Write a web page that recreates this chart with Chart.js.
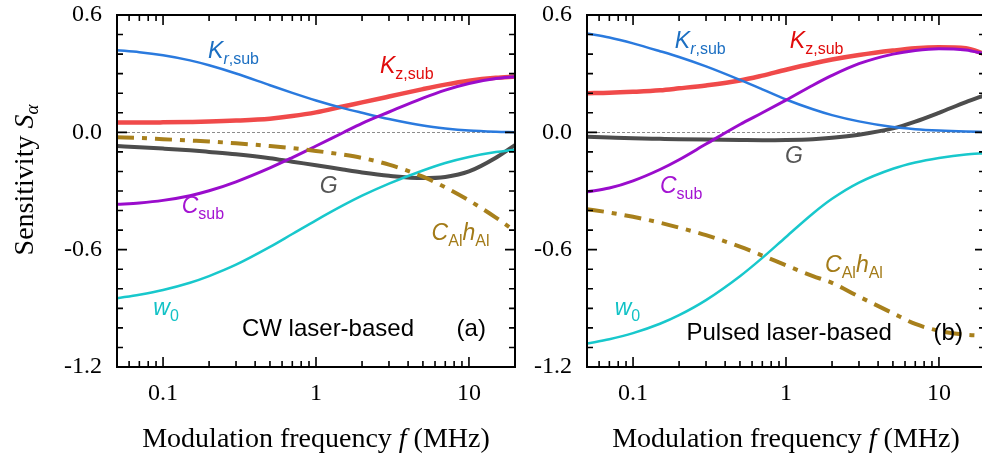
<!DOCTYPE html>
<html><head><meta charset="utf-8">
<script src="https://cdn.jsdelivr.net/npm/chart.js@4.4.1/dist/chart.umd.min.js"></script>
<style>
html,body{margin:0;padding:0;background:#fff;width:982px;height:455px;overflow:hidden;}
canvas{position:absolute;top:0;}
#ca{left:0;} #cb{left:470px;}
</style></head><body>
<canvas id="ca" width="520" height="455"></canvas>
<canvas id="cb" width="520" height="455"></canvas>
<script>
// ---------- data ----------
const freq = [0.05, 0.07, 0.1, 0.15, 0.2, 0.3, 0.5, 0.7, 1, 1.5, 2, 3, 5, 7, 10, 15, 20];

// panel (a) CW laser-based
const krA    = [0.42, 0.41, 0.394, 0.368, 0.343, 0.301, 0.241, 0.202, 0.163, 0.124, 0.1, 0.068, 0.035, 0.02, 0.009, 0.003, 0.001];
const kzA    = [0.05, 0.05, 0.051, 0.053, 0.055, 0.06, 0.07, 0.083, 0.102, 0.132, 0.153, 0.183, 0.221, 0.244, 0.264, 0.279, 0.285];
const csubA  = [-0.368, -0.361, -0.348, -0.324, -0.299, -0.253, -0.182, -0.129, -0.07, -0.002, 0.046, 0.104, 0.175, 0.216, 0.25, 0.275, 0.284];
const gA     = [-0.07, -0.076, -0.083, -0.092, -0.1, -0.112, -0.132, -0.15, -0.168, -0.19, -0.205, -0.222, -0.234, -0.228, -0.2, -0.13, -0.065];
const w0A    = [-0.848, -0.83, -0.806, -0.769, -0.735, -0.677, -0.586, -0.52, -0.45, -0.374, -0.324, -0.262, -0.195, -0.157, -0.126, -0.101, -0.089];
const cahA   = [-0.025, -0.029, -0.035, -0.042, -0.047, -0.056, -0.07, -0.081, -0.095, -0.114, -0.131, -0.165, -0.227, -0.281, -0.348, -0.436, -0.505];

// panel (b) pulsed laser-based
const krB    = [0.506, 0.485, 0.455, 0.415, 0.385, 0.337, 0.268, 0.22, 0.168, 0.118, 0.088, 0.056, 0.027, 0.016, 0.009, 0.004, 0.002];
const kzB    = [0.2, 0.202, 0.207, 0.215, 0.225, 0.24, 0.265, 0.29, 0.32, 0.352, 0.372, 0.395, 0.418, 0.43, 0.435, 0.43, 0.4];
const csubB  = [-0.304, -0.285, -0.248, -0.19, -0.14, -0.06, 0.04, 0.1, 0.165, 0.241, 0.291, 0.351, 0.4, 0.419, 0.428, 0.421, 0.401];
const gB     = [-0.022, -0.026, -0.03, -0.033, -0.035, -0.037, -0.039, -0.04, -0.039, -0.035, -0.028, -0.012, 0.02, 0.055, 0.1, 0.155, 0.19];
const w0B    = [-1.08, -1.058, -1.027, -0.979, -0.935, -0.858, -0.736, -0.642, -0.535, -0.415, -0.34, -0.257, -0.186, -0.154, -0.131, -0.113, -0.107];
const cahB   = [-0.393, -0.41, -0.432, -0.462, -0.487, -0.526, -0.585, -0.63, -0.68, -0.735, -0.77, -0.84, -0.925, -0.98, -1.015, -1.035, -1.04];

// ticks
const xTickValues = [0.05,0.06,0.07,0.08,0.09,0.1,0.2,0.3,0.4,0.5,0.6,0.7,0.8,0.9,1,2,3,4,5,6,7,8,9,10,20];
const xLabelValues = [0.1, 1, 10];
const xLabelTexts  = ['0.1', '1', '10'];
const yTickValues = [-1.2,-1.1,-1.0,-0.9,-0.8,-0.7,-0.6,-0.5,-0.4,-0.3,-0.2,-0.1,0,0.1,0.2,0.3,0.4,0.5,0.6];
const yLabelValues = [0.6, 0, -0.6, -1.2];
const yLabelTexts  = ['0.6', '0.0', '-0.6', '-1.2'];

// ---------- style ----------
const SERIF = '"Liberation Serif", "Times New Roman", serif';
const SANS  = '"Liberation Sans", Arial, sans-serif';
const C = {
  kr:  {line:'#2a7ade', text:'#1c6fc2', w:2.5},
  kz:  {line:'#f04a4a', text:'#e00c0c', w:4.5},
  cs:  {line:'#9a0ccc', text:'#a414d2', w:3},
  g:   {line:'#4d4d4d', text:'#555555', w:4},
  w0:  {line:'#18c8cc', text:'#12c2c6', w:2.5},
  cah: {line:'#a8801c', text:'#a37b18', w:4}
};
const BIG = 23, SUB = 16, SD = 6;
const lbl = {
  kr:  [{t:'K',i:1,s:BIG},{t:'r',i:1,s:SUB,d:SD},{t:',sub',s:SUB,d:SD}],
  kz:  [{t:'K',i:1,s:BIG},{t:'z,sub',s:SUB,d:SD}],
  cs:  [{t:'C',i:1,s:BIG},{t:'sub',s:SUB,d:SD}],
  g:   [{t:'G',i:1,s:BIG}],
  w0:  [{t:'w',i:1,s:BIG},{t:'0',s:SUB,d:SD}],
  cah: [{t:'C',i:1,s:BIG},{t:'Al',s:SUB,d:SD},{t:'h',i:1,s:BIG},{t:'Al',s:SUB,d:SD}]
};

function drawRich(ctx, x, y, parts, color, family) {
  ctx.fillStyle = color; ctx.textAlign = 'left'; ctx.textBaseline = 'alphabetic';
  for (const p of parts) {
    ctx.font = (p.i ? 'italic ' : '') + p.s + 'px ' + family;
    ctx.fillText(p.t, x, y + (p.d || 0));
    x += ctx.measureText(p.t).width;
  }
}
function richWidth(ctx, parts, family) {
  let w = 0;
  for (const p of parts) { ctx.font = (p.i ? 'italic ' : '') + p.s + 'px ' + family; w += ctx.measureText(p.t).width; }
  return w;
}

const decor = {
  id: 'decor',
  beforeDatasetsDraw(chart) {
    const {ctx, chartArea: a, scales: {y}} = chart;
    ctx.save();
    ctx.strokeStyle = '#8c8c8c'; ctx.lineWidth = 1; ctx.setLineDash([3, 2]);
    const py = Math.round(y.getPixelForValue(0)) + 0.5;
    ctx.beginPath(); ctx.moveTo(a.left, py); ctx.lineTo(a.right, py); ctx.stroke();
    ctx.restore();
  },
  afterDatasetsDraw(chart, args, opts) {
    const {ctx, chartArea: a, scales: {x, y}} = chart;
    ctx.save();
    ctx.strokeStyle = '#000'; ctx.lineWidth = 1.6; ctx.setLineDash([]);
    ctx.beginPath();
    for (const v of yTickValues) {
      const py = y.getPixelForValue(v);
      const len = yLabelValues.some(m => Math.abs(m - v) < 1e-9) ? 10 : 6;
      ctx.moveTo(a.left, py); ctx.lineTo(a.left + len, py);
      ctx.moveTo(a.right, py); ctx.lineTo(a.right - len, py);
    }
    for (const v of xTickValues) {
      const px = x.getPixelForValue(v);
      const len = xLabelValues.some(m => Math.abs(m - v) < 1e-9) ? 10 : 6;
      ctx.moveTo(px, a.bottom); ctx.lineTo(px, a.bottom - len);
      ctx.moveTo(px, a.top); ctx.lineTo(px, a.top + len);
    }
    ctx.stroke();
    ctx.lineWidth = 2;
    ctx.strokeRect(a.left, a.top, a.right - a.left, a.bottom - a.top);

    // curve labels
    for (const L of opts.labels) {
      drawRich(ctx, x.getPixelForValue(L.f), y.getPixelForValue(L.v), lbl[L.k], C[L.k].text, SANS);
    }
    // panel text
    ctx.font = '24px ' + SANS; ctx.fillStyle = '#000'; ctx.textAlign = 'left';
    ctx.fillText(opts.note.t, x.getPixelForValue(opts.note.f), y.getPixelForValue(opts.note.v));
    ctx.fillText(opts.tag.t, x.getPixelForValue(opts.tag.f), y.getPixelForValue(opts.tag.v));

    // x title
    const xt = [{t:'Modulation frequency ',s:28},{t:'f',i:1,s:28},{t:' (MHz)',s:28}];
    const wx = richWidth(ctx, xt, SERIF);
    drawRich(ctx, (a.left + a.right) / 2 - wx / 2, 447, xt, '#000', SERIF);

    // y title
    if (opts.ytitle) {
      const yt = [{t:'Sensitivity ',s:28},{t:'S',i:1,s:28},{t:'\u03b1',i:1,s:19,d:5}];
      const wy = richWidth(ctx, yt, SERIF);
      ctx.translate(33, 180); ctx.rotate(-Math.PI / 2);
      drawRich(ctx, -wy / 2, 0, yt, '#000', SERIF);
    }
    ctx.restore();
  }
};

function series(vals, key, order) {
  return {
    data: freq.map((f, i) => ({x: f, y: vals[i]})),
    borderColor: C[key].line, borderWidth: C[key].w,
    borderDash: key === 'cah' ? [17, 8, 5, 8] : [],
    pointRadius: 0, fill: false, cubicInterpolationMode: 'monotone',
    clip: 0, order: order
  };
}

function makeChart(id, d, opts) {
  return new Chart(document.getElementById(id), {
    type: 'line',
    data: { datasets: [
      series(d.cah, 'cah', 0), series(d.cs, 'cs', 1), series(d.kr, 'kr', 2),
      series(d.w0, 'w0', 3), series(d.g, 'g', 4), series(d.kz, 'kz', 5)
    ]},
    options: {
      responsive: false, animation: false, devicePixelRatio: 1,
      layout: { padding: {top: 15, right: 5, left: 0, bottom: 0} },
      plugins: { legend: {display: false}, tooltip: {enabled: false}, decor: opts },
      scales: {
        x: {
          type: 'logarithmic', min: 0.05, max: 20,
          grid: {display: false, drawTicks: false}, border: {display: false},
          afterBuildTicks: s => { s.ticks = xTickValues.map(v => ({value: v})); },
          afterFit: s => { s.height = 88; s.paddingLeft = 0; s.paddingRight = 0; },
          ticks: {
            autoSkip: false, maxRotation: 0, padding: 12, color: '#000',
            font: {family: SERIF, size: 24},
            callback: v => { const i = xLabelValues.findIndex(m => Math.abs(m - v) < 1e-9); return i >= 0 ? xLabelTexts[i] : ''; }
          }
        },
        y: {
          min: -1.2, max: 0.6,
          grid: {display: false, drawTicks: false}, border: {display: false},
          afterBuildTicks: s => { s.ticks = yTickValues.map(v => ({value: v})); },
          afterFit: s => { s.width = 117; s.paddingTop = 0; s.paddingBottom = 0; },
          ticks: {
            autoSkip: false, padding: 15, color: '#000',
            font: {family: SERIF, size: 24},
            callback: v => { const i = yLabelValues.findIndex(m => Math.abs(m - v) < 1e-9); return i >= 0 ? yLabelTexts[i] : ''; }
          }
        }
      }
    },
    plugins: [decor]
  });
}

makeChart('ca', {kr: krA, kz: kzA, cs: csubA, g: gA, w0: w0A, cah: cahA}, {
  ytitle: true,
  labels: [
    {k:'kr', f:0.197, v:0.38}, {k:'kz', f:2.62, v:0.304}, {k:'g', f:1.06, v:-0.31},
    {k:'cs', f:0.1325, v:-0.414}, {k:'cah', f:5.7, v:-0.55}, {k:'w0', f:0.0864, v:-0.934}
  ],
  note: {t:'CW laser-based', f:0.328, v:-1.04},
  tag: {t:'(a)', f:8.3, v:-1.04}
});
makeChart('cb', {kr: krB, kz: kzB, cs: csubB, g: gB, w0: w0B, cah: cahB}, {
  ytitle: false,
  labels: [
    {k:'kr', f:0.1875, v:0.43}, {k:'kz', f:1.06, v:0.43}, {k:'g', f:0.985, v:-0.158},
    {k:'cs', f:0.15, v:-0.311}, {k:'cah', f:1.8, v:-0.712}, {k:'w0', f:0.0759, v:-0.934}
  ],
  note: {t:'Pulsed laser-based', f:0.2234, v:-1.061},
  tag: {t:'(b)', f:9.22, v:-1.061}
});
</script>
</body></html>
